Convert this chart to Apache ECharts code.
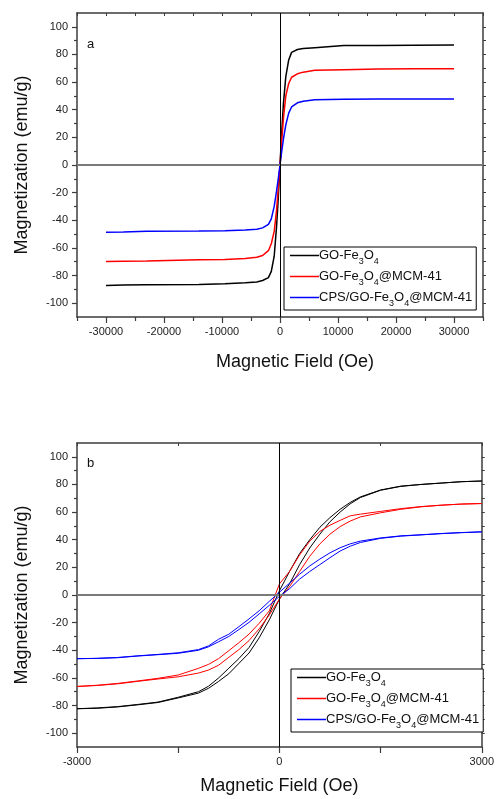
<!DOCTYPE html>
<html>
<head>
<meta charset="utf-8">
<script src="https://cdn.jsdelivr.net/npm/echarts@6/dist/echarts.min.js"></script>
<style>
html, body { margin: 0; padding: 0; background: #fff; }
#main { width: 497px; height: 799px; }
</style>
</head>
<body>
<div id="main"></div>
<script>
// ---- data: panel a (full field sweep) ----
var fieldA = [-30000, -27000, -23000, -14000, -9500, -6000, -4000, -3000, -2000, -1500, -1000, -600, -300, 0,
    300, 600, 1000, 1500, 2000, 3000, 4000, 6000, 11000, 17000, 23000, 30000];
var goA = [-87.2, -86.8, -86.6, -86.4, -86, -85.3, -84.6, -83.6, -81.5, -77, -66, -45, -24, 0,
    24, 45, 64, 76, 81.5, 83.6, 84.3, 84.9, 86.4, 86.5, 86.6, 86.8];
var mcmA = [-69.8, -69.7, -69.5, -68.6, -68.3, -67.6, -66.8, -65.5, -62, -57, -48, -33, -17, 0,
    18, 34, 50, 59, 63.5, 66, 67.2, 68.5, 69, 69.5, 69.6, 69.7];
var cpsA = [-48.6, -48.5, -48, -47.8, -47.5, -47, -46.5, -45.5, -43, -39, -30, -19, -10, 0,
    10, 19, 29, 37.5, 42, 45, 46.2, 47.2, 47.5, 47.7, 47.8, 47.8];

// ---- data: panel b (low field loop), down branch then up branch ----
var fieldDown = [3000, 2700, 2400, 2100, 1800, 1500, 1200, 1050, 900, 750, 600, 450, 300, 150, 0,
    -150, -300, -450, -600, -750, -900, -1050, -1200, -1500, -1800, -2100, -2400, -2700, -3000];
var fieldUp = [-3000, -2700, -2400, -2100, -1800, -1500, -1200, -1050, -900, -750, -600, -450, -300, -150, 0,
    150, 300, 450, 600, 750, 900, 1050, 1200, 1500, 1800, 2100, 2400, 2700, 3000];
var goDown = [82.5, 82, 81, 80, 78.8, 76, 71, 67, 62, 56, 49, 40, 30, 17, 3,
    -13.5, -26.5, -38, -46, -53, -60, -66, -70, -74, -77.5, -79.2, -80.8, -81.7, -82.3];
var goUp = [-82.5, -82, -81, -79.5, -77.8, -74.5, -71, -67.5, -62.5, -57, -49.5, -42, -31, -18, -3,
    8, 22, 34, 44, 53, 60, 66, 70.5, 75.8, 78.6, 80, 81, 82, 82.5];
var mcmDown = [66.2, 65.8, 65, 64, 62.5, 60.5, 58.5, 57.3, 54, 50.5, 46, 39, 29, 17, 8,
    -11.5, -20.5, -28.3, -34.5, -40.3, -46, -50.2, -53.1, -57.9, -60.3, -62.2, -64, -65.3, -66.2];
var mcmUp = [-66.2, -65.5, -64.3, -62.5, -60.8, -59.2, -56.5, -54.3, -50.8, -45.1, -39.5, -33, -24.5, -14.5, -3,
    6, 17, 28, 37, 44, 49.5, 53.5, 56.5, 59.5, 62, 63.8, 65, 65.8, 66.2];
var cpsDown = [45.7, 45.2, 44.5, 43.6, 42.8, 41.3, 39, 37, 34.2, 30.5, 26, 21, 15, 8.5, 2,
    -4.6, -11.4, -17.3, -22.9, -28.4, -32, -36.8, -39.5, -41.8, -43, -44, -45.2, -45.8, -46.1];
var cpsUp = [-46.1, -45.9, -45.4, -44.2, -43.2, -42.2, -40, -37.5, -33.8, -30, -25, -19.8, -13.7, -7.5, -1,
    4.5, 11.5, 17, 22, 27, 31.8, 35.3, 38, 41, 42.6, 43.5, 44.4, 45.1, 45.7];

var seriesNames = ['GO-Fe3O4', 'GO-Fe3O4@MCM-41', 'CPS/GO-Fe3O4@MCM-41'];
var legendText = {
    'GO-Fe3O4': 'GO-Fe{s|3}O{s|4}',
    'GO-Fe3O4@MCM-41': 'GO-Fe{s|3}O{s|4}@MCM-41',
    'CPS/GO-Fe3O4@MCM-41': 'CPS/GO-Fe{s|3}O{s|4}@MCM-41'
};
var colors = ['#000000', '#ff0000', '#0000ff'];

// tick positions
var xMajorA = [-30000, -20000, -10000, 0, 10000, 20000, 30000];
var xMinorA = [-35000, -25000, -15000, -5000, 5000, 15000, 25000, 35000];
var xMajorB = [-3000, -1500, 0, 1500, 3000];
var xLabelsB = [-3000, 0, 3000];
var yMajor = [-100, -80, -60, -40, -20, 0, 20, 40, 60, 80, 100];
var yMinor = [-90, -70, -50, -30, -10, 10, 30, 50, 70, 90];

var FONT = "'Liberation Sans', Arial, sans-serif";
var frameColor = '#3c3c3c';

function pairs(xs, ys) {
    return xs.map(function (x, i) { return [x, ys[i]]; });
}

function loop(down, up) {
    return pairs(fieldDown, down).concat(pairs(fieldUp, up));
}

var grids = [
    { left: 77, top: 13, width: 406, height: 304 },
    { left: 77, top: 443, width: 406, height: 304 }
];

function makeXAxes(gi, min, max, majors, labels, minors, allTicks, nameGap, namePad) {
    return [
        {
            type: 'value', gridIndex: gi, min: min, max: max, position: 'bottom',
            name: 'Magnetic Field (Oe)', nameLocation: 'middle', nameGap: nameGap,
            nameTextStyle: { fontFamily: FONT, fontSize: 18, color: '#111', padding: namePad },
            axisLine: { show: true, onZero: false, lineStyle: { color: frameColor, width: 1.5 } },
            axisTick: { show: true, inside: false, length: 6, customValues: majors, lineStyle: { color: frameColor, width: 1.2 } },
            axisLabel: { show: true, customValues: labels, margin: 9, fontFamily: FONT, fontSize: 11, color: '#222',
                formatter: function (v) { return String(v); } },
            splitLine: { show: false }
        },
        {
            type: 'value', gridIndex: gi, min: min, max: max, position: 'bottom',
            axisLine: { show: false, onZero: false },
            axisTick: { show: minors.length > 0, inside: false, length: 4, customValues: minors, lineStyle: { color: frameColor, width: 1.2 } },
            axisLabel: { show: false },
            splitLine: { show: false }
        },
        {
            type: 'value', gridIndex: gi, min: min, max: max, position: 'top',
            axisLine: { show: true, onZero: false, lineStyle: { color: frameColor, width: 1.5 } },
            axisTick: { show: true, inside: true, length: 3, customValues: allTicks, lineStyle: { color: frameColor, width: 1 } },
            axisLabel: { show: false },
            splitLine: { show: false }
        }
    ];
}

function makeYAxes(gi) {
    return [
        {
            type: 'value', gridIndex: gi, min: -110, max: 110, position: 'left',
            name: 'Magnetization (emu/g)', nameLocation: 'middle', nameGap: 46, nameRotate: 90,
            nameTextStyle: { fontFamily: FONT, fontSize: 18, color: '#111' },
            axisLine: { show: true, onZero: false, lineStyle: { color: frameColor, width: 1.5 } },
            axisTick: { show: true, length: 5, customValues: yMajor, lineStyle: { color: frameColor, width: 1.2 } },
            axisLabel: { show: true, customValues: yMajor, margin: 9, fontFamily: FONT, fontSize: 11, color: '#222',
                formatter: function (v) { return String(v); } },
            splitLine: { show: false }
        },
        {
            type: 'value', gridIndex: gi, min: -110, max: 110, position: 'left',
            axisLine: { show: false, onZero: false },
            axisTick: { show: true, length: 3, customValues: yMinor, lineStyle: { color: frameColor, width: 1.2 } },
            axisLabel: { show: false },
            splitLine: { show: false }
        },
        {
            type: 'value', gridIndex: gi, min: -110, max: 110, position: 'right',
            axisLine: { show: true, onZero: false, lineStyle: { color: frameColor, width: 1.5 } },
            axisTick: { show: true, length: 3, customValues: yMajor.concat(yMinor), lineStyle: { color: frameColor, width: 1 } },
            axisLabel: { show: false },
            splitLine: { show: false }
        }
    ];
}

var zeroLines = {
    silent: true,
    symbol: ['none', 'none'],
    label: { show: false },
    animation: false,
    data: [
        { yAxis: 0, lineStyle: { color: '#7a7a7a', width: 2, type: 'solid' } },
        { xAxis: 0, lineStyle: { color: '#000', width: 1, type: 'solid' } }
    ]
};

function lineSeries(name, data, axisIdx, color, width, withZero) {
    var s = {
        name: name, type: 'line', data: data,
        xAxisIndex: axisIdx, yAxisIndex: axisIdx,
        symbol: 'none', smooth: false,
        lineStyle: { color: color, width: width },
        itemStyle: { color: color },
        z: 3
    };
    if (withZero) s.markLine = zeroLines;
    return s;
}

var legendBase = {
    orient: 'vertical',
    backgroundColor: '#fff',
    borderColor: '#000',
    borderWidth: 1,
    padding: [2, 4, 2, 6],
    icon: 'rect',
    itemWidth: 29,
    itemHeight: 1.5,
    itemGap: 4,
    data: seriesNames,
    formatter: function (name) { return legendText[name]; },
    textStyle: {
        fontFamily: FONT, fontSize: 13, color: '#111', padding: [0, 0, 0, -5],
        rich: {
            s: { fontFamily: FONT, fontSize: 9, verticalAlign: 'top', padding: [8, 0, 0, 0], lineHeight: 9 }
        }
    }
};

var option = {
    animation: false,
    backgroundColor: '#fff',
    title: [
        { text: 'a', left: 87, top: 38, padding: 0, textStyle: { fontFamily: FONT, fontSize: 13, fontWeight: 'normal', color: '#111' } },
        { text: 'b', left: 87, top: 457, padding: 0, textStyle: { fontFamily: FONT, fontSize: 13, fontWeight: 'normal', color: '#111' } }
    ],
    grid: grids,
    legend: [
        Object.assign({}, legendBase, { left: 284, top: 247 }),
        Object.assign({}, legendBase, { left: 291, top: 669 })
    ],
    xAxis: makeXAxes(0, -35000, 35000, xMajorA, xMajorA, xMinorA, xMajorA.concat(xMinorA), 36, [0, 0, 0, 30])
        .concat(makeXAxes(1, -3000, 3000, xMajorB, xLabelsB, [], xMajorB, 30, [0, 0, 0, 0])),
    yAxis: makeYAxes(0).concat(makeYAxes(1)),
    series: [
        lineSeries(seriesNames[0], pairs(fieldA, goA), 0, colors[0], 1.5, true),
        lineSeries(seriesNames[1], pairs(fieldA, mcmA), 0, colors[1], 1.5, false),
        lineSeries(seriesNames[2], pairs(fieldA, cpsA), 0, colors[2], 1.5, false),
        lineSeries(seriesNames[0], loop(goDown, goUp), 3, colors[0], 1, true),
        lineSeries(seriesNames[1], loop(mcmDown, mcmUp), 3, colors[1], 1, false),
        lineSeries(seriesNames[2], loop(cpsDown, cpsUp), 3, colors[2], 1, false)
    ]
};

var myChart = echarts.init(document.getElementById('main'), null, { renderer: 'canvas' });
myChart.setOption(option);
</script>
</body>
</html>
